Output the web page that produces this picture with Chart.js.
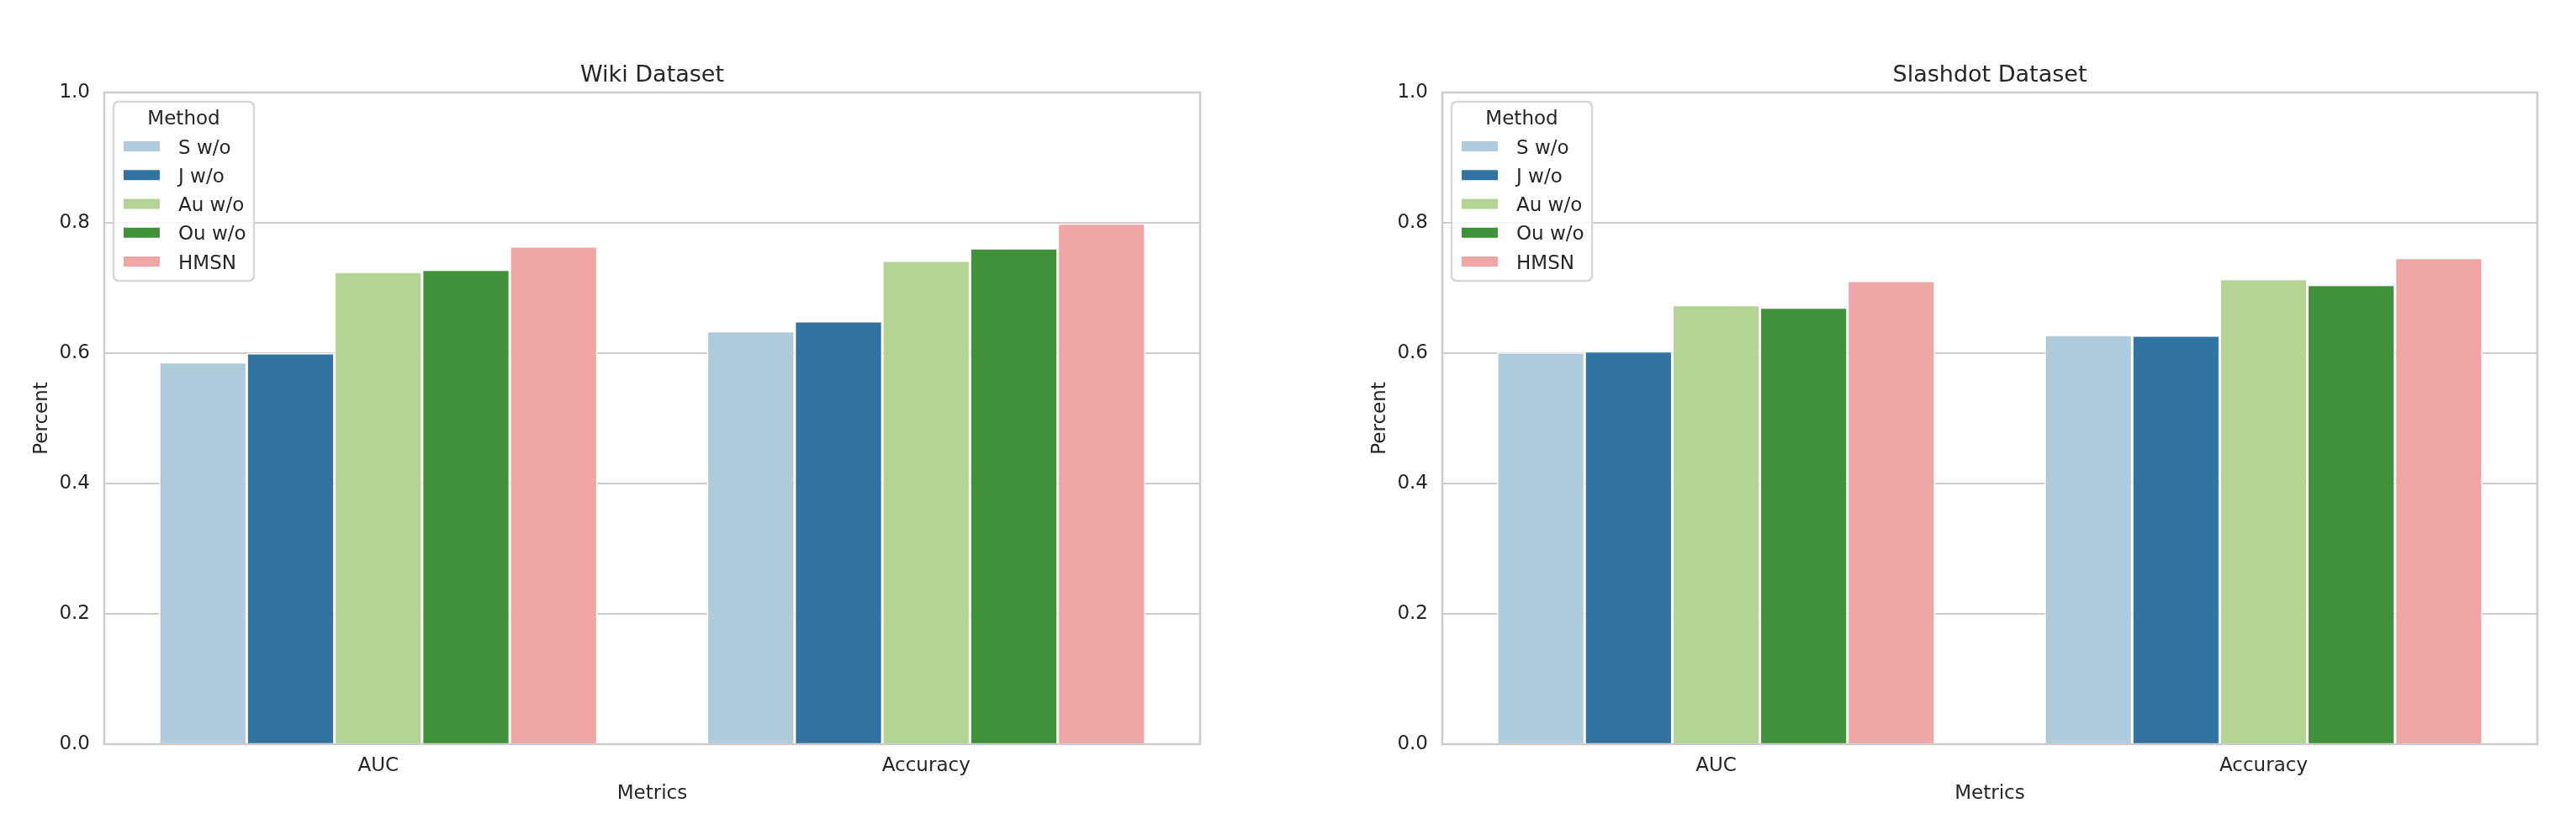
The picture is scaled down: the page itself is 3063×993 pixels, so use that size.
<!DOCTYPE html>
<html>
<head>
<meta charset="utf-8">
<script src="https://cdn.jsdelivr.net/npm/chart.js@4.4.1/dist/chart.umd.min.js"></script>
<style>
  html, body { margin: 0; padding: 0; background: #fff; }
  #wrap { position: relative; width: 3063px; height: 993px; overflow: hidden; }
  canvas { position: absolute; top: 0; }
</style>
</head>
<body>
<div id="wrap">
  <canvas id="wiki" width="1500" height="993" style="left:0px"></canvas>
  <canvas id="slashdot" width="1472" height="993" style="left:1591px"></canvas>
</div>
<script>
// data
const metrics = ['AUC', 'Accuracy'];
const methods = ['S w/o', 'J w/o', 'Au w/o', 'Ou w/o', 'HMSN'];
const wikiAUC = [0.586, 0.600, 0.725, 0.728, 0.764];
const wikiAccuracy = [0.634, 0.649, 0.742, 0.761, 0.799];
const slashdotAUC = [0.601, 0.603, 0.674, 0.670, 0.711];
const slashdotAccuracy = [0.628, 0.627, 0.714, 0.705, 0.746];
const yTicks = [0.0, 0.2, 0.4, 0.6, 0.8, 1.0];

const colors = ['#afcbdc', '#3274a1', '#b4d494', '#3f913a', '#efa6a5'];
const textColor = '#262626';
const family = '"DejaVu Sans", sans-serif';

// axes frame (matplotlib spines)
const frame = {
  id: 'frame',
  afterDatasetsDraw(chart) {
    const {ctx, chartArea: a} = chart;
    ctx.save();
    ctx.strokeStyle = '#cccccc';
    ctx.lineWidth = 2.5;
    ctx.strokeRect(a.left, a.top, a.right - a.left, a.bottom - a.top);
    ctx.restore();
  }
};

// legend box inside the plot, upper left
const boxLegend = {
  id: 'boxLegend',
  afterDraw(chart) {
    const {ctx, chartArea: a} = chart;
    const x = a.left + 11, y = a.top + 11, w = 167, h = 213;
    ctx.save();
    ctx.beginPath();
    ctx.roundRect(x, y, w, h, 6);
    ctx.fillStyle = 'rgba(255,255,255,0.8)';
    ctx.fill();
    ctx.strokeStyle = '#d6d6d6';
    ctx.lineWidth = 2.5;
    ctx.stroke();
    ctx.font = '23px ' + family;
    ctx.fillStyle = textColor;
    ctx.textAlign = 'center';
    ctx.textBaseline = 'alphabetic';
    ctx.fillText('Method', x + w / 2, y + 27);
    ctx.textAlign = 'left';
    chart.data.datasets.forEach((ds, i) => {
      const cy = y + 53 + i * 34.25;
      ctx.fillStyle = ds.backgroundColor;
      ctx.fillRect(x + 12, cy - 6, 43, 12);
      ctx.fillStyle = textColor;
      ctx.fillText(ds.label, x + 77, cy + 8.5);
    });
    ctx.restore();
  }
};

function makeChart(id, title, auc, acc, padRight) {
  const datasets = methods.map((m, i) => ({
    label: m,
    data: [auc[i], acc[i]],
    backgroundColor: colors[i],
    borderColor: '#ffffff',
    borderWidth: 1.5,
    categoryPercentage: 0.8,
    barPercentage: 1.0
  }));
  return new Chart(document.getElementById(id), {
    type: 'bar',
    data: { labels: metrics, datasets: datasets },
    plugins: [frame, boxLegend],
    options: {
      responsive: false,
      animation: false,
      layout: { padding: { left: 0, right: padRight, top: 0, bottom: 28 } },
      plugins: {
        legend: { display: false },
        tooltip: { enabled: false },
        title: {
          display: true,
          text: title,
          fullSize: false,
          color: textColor,
          font: { family: family, size: 27, weight: 'normal' },
          padding: { top: 74, bottom: 3.6 }
        }
      },
      scales: {
        x: {
          grid: { display: false, drawTicks: false },
          border: { display: false },
          ticks: { color: textColor, font: { family: family, size: 23 }, padding: 12 },
          title: {
            display: true, text: 'Metrics', color: textColor,
            font: { family: family, size: 23 }, padding: { top: 0, bottom: 7 }
          },
          afterFit(s) { s.height = 80; }
        },
        y: {
          min: 0,
          max: 1,
          grid: { color: '#cccccc', lineWidth: 2, drawTicks: false },
          border: { display: false },
          afterBuildTicks(s) { s.ticks = yTicks.map(v => ({ value: v })); },
          ticks: {
            color: textColor, font: { family: family, size: 23 }, padding: 17,
            callback: v => v.toFixed(1)
          },
          title: {
            display: true, text: 'Percent', color: textColor,
            font: { family: family, size: 23 }, padding: { top: 36, bottom: 0 }
          },
          afterFit(s) { s.width = 124; }
        }
      }
    }
  });
}

makeChart('wiki', 'Wiki Dataset', wikiAUC, wikiAccuracy, 73);
makeChart('slashdot', 'Slashdot Dataset', slashdotAUC, slashdotAccuracy, 46);
</script>
</body>
</html>
